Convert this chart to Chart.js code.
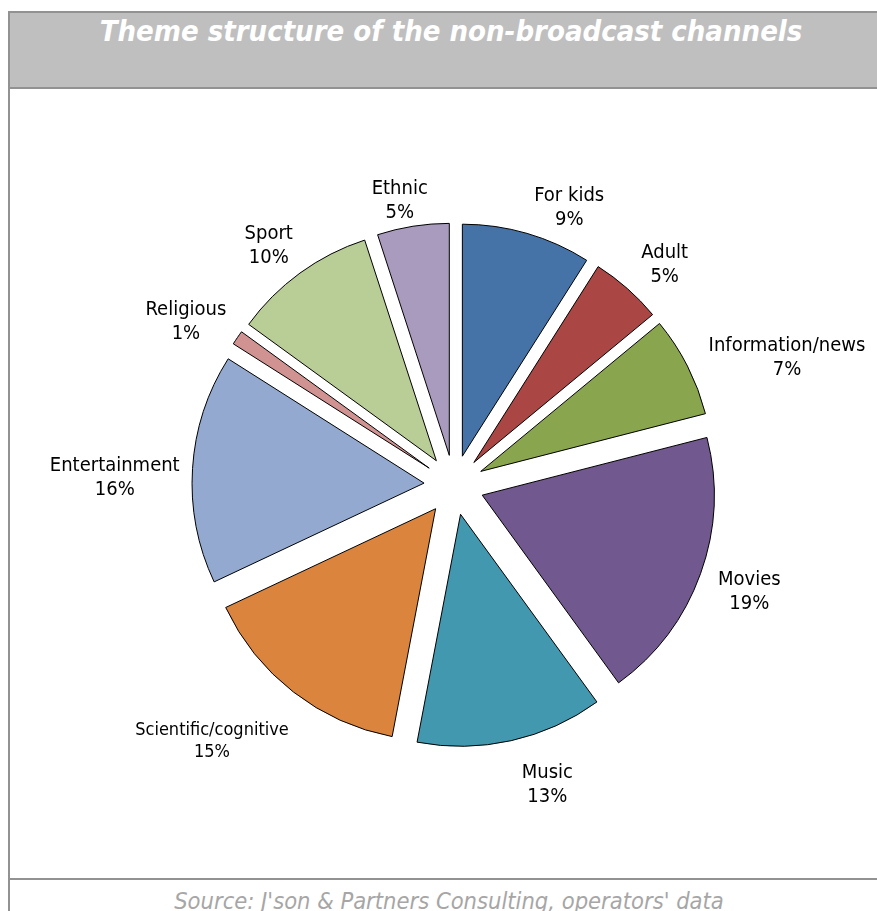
<!DOCTYPE html>
<html>
<head>
<meta charset="utf-8">
<script src="https://cdn.jsdelivr.net/npm/chart.js@4"></script>
<style>
  body { margin: 0; background: #fff; width: 877px; height: 911px; overflow: hidden; position: relative; }
  .titlebar { position: absolute; left: 8px; top: 11px; width: 880px; height: 74px; background: #bfbfbf;
    border-top: 2px solid #929292; border-bottom: 2px solid #929292; border-left: 2px solid #929292; }
  .leftline { position: absolute; left: 8px; top: 11px; width: 2px; height: 900px; background: #929292; }
  .bottomline { position: absolute; left: 8px; top: 878px; width: 880px; height: 2px; background: #929292; }
  .title { position: absolute; left: 0; top: 14px; width: 902px; text-align: center; color: #fff;
    font: italic bold 29px "DejaVu Sans Condensed", "DejaVu Sans", sans-serif; line-height: 34px; }
  .source { position: absolute; left: 0; top: 887px; width: 898px; text-align: center; color: #a6a6a6;
    font: italic 23.5px "DejaVu Sans Condensed", "DejaVu Sans", sans-serif; line-height: 28px; }
  #chart { position: absolute; left: 0; top: 0; }
</style>
</head>
<body>
<div class="titlebar"></div>
<div class="leftline"></div>
<div class="bottomline"></div>
<div class="title">Theme structure of the non-broadcast channels</div>
<div class="source">Source: J'son &amp; Partners Consulting, operators' data</div>
<canvas id="chart" width="877" height="911"></canvas>
<script>
// data, clockwise from 12 o'clock
const categories = ['For kids', 'Adult', 'Information/news', 'Movies', 'Music',
  'Scientific/cognitive', 'Entertainment', 'Religious', 'Sport', 'Ethnic'];
const shares = [9, 5, 7, 19, 13, 15, 16, 1, 10, 5];
const sliceColors = ['#4572a7', '#aa4643', '#89a54e', '#71588f', '#4198af',
  '#db843d', '#93a9cf', '#d19392', '#b9cd96', '#a99bbd'];

const labelFont = '"DejaVu Sans Condensed", "DejaVu Sans", sans-serif';
const smallLabels = ['Scientific/cognitive'];
const EXPLODE = 30;

// small hand tweaks so labels sit where excel put them
const labelNudge = {
  'For kids': [29, 9], 'Adult': [14, 3], 'Information/news': [19, 8], 'Movies': [8, 6],
  'Music': [28, 9], 'Scientific/cognitive': [-27, 23], 'Entertainment': [-1, 12],
  'Religious': [-8, 4], 'Sport': [-10, 2], 'Ethnic': [-7, 10]
};

// pulls every slice straight out from the centre (plain translate,
// chart.js's own offset also shrinks the slice angle)
const explode = {
  id: 'explode',
  beforeDatasetsDraw(chart) {
    chart.getDatasetMeta(0).data.forEach(arc => {
      if (arc._exploded) return;
      arc._exploded = true;
      const baseDraw = arc.draw;
      arc.draw = function (ctx) {
        const mid = (this.startAngle + this.endAngle) / 2;
        ctx.save();
        ctx.translate(Math.cos(mid) * EXPLODE, Math.sin(mid) * EXPLODE);
        baseDraw.call(this, ctx);
        ctx.restore();
      };
    });
  }
};

// draws "name / xx%" outside each slice
const outsideLabels = {
  id: 'outsideLabels',
  afterDatasetsDraw(chart) {
    const ctx = chart.ctx;
    const meta = chart.getDatasetMeta(0);
    ctx.save();
    ctx.fillStyle = '#000';
    ctx.textAlign = 'center';
    ctx.textBaseline = 'middle';
    meta.data.forEach((arc, i) => {
      const p = arc.getProps(['x', 'y', 'startAngle', 'endAngle', 'outerRadius'], true);
      const mid = (p.startAngle + p.endAngle) / 2;
      const dx = Math.cos(mid), dy = Math.sin(mid);
      const size = smallLabels.includes(categories[i]) ? 18 : 20;
      const lh = size * 1.2;
      ctx.font = size + 'px ' + labelFont;
      const l1 = categories[i], l2 = shares[i] + '%';
      const w = Math.max(ctx.measureText(l1).width, ctx.measureText(l2).width);
      const h = lh * 2;
      const r = p.outerRadius + EXPLODE + 12;
      const nudge = labelNudge[l1] || [0, 0];
      const cx = p.x + dx * r + dx * w / 2 + nudge[0];
      const cy = p.y + dy * r + dy * h / 2 + nudge[1];
      ctx.fillText(l1, cx, cy - lh / 2);
      ctx.fillText(l2, cx, cy + lh / 2);
    });
    ctx.restore();
  }
};

new Chart(document.getElementById('chart'), {
  type: 'pie',
  data: {
    labels: categories,
    datasets: [{
      data: shares,
      backgroundColor: sliceColors,
      borderColor: '#000',
      borderWidth: 1
    }]
  },
  options: {
    responsive: false,
    animation: false,
    radius: 232,
    layout: { padding: { left: 31, top: 59 } },
    plugins: { legend: { display: false }, tooltip: { enabled: false } }
  },
  plugins: [explode, outsideLabels]
});
</script>
</body>
</html>
